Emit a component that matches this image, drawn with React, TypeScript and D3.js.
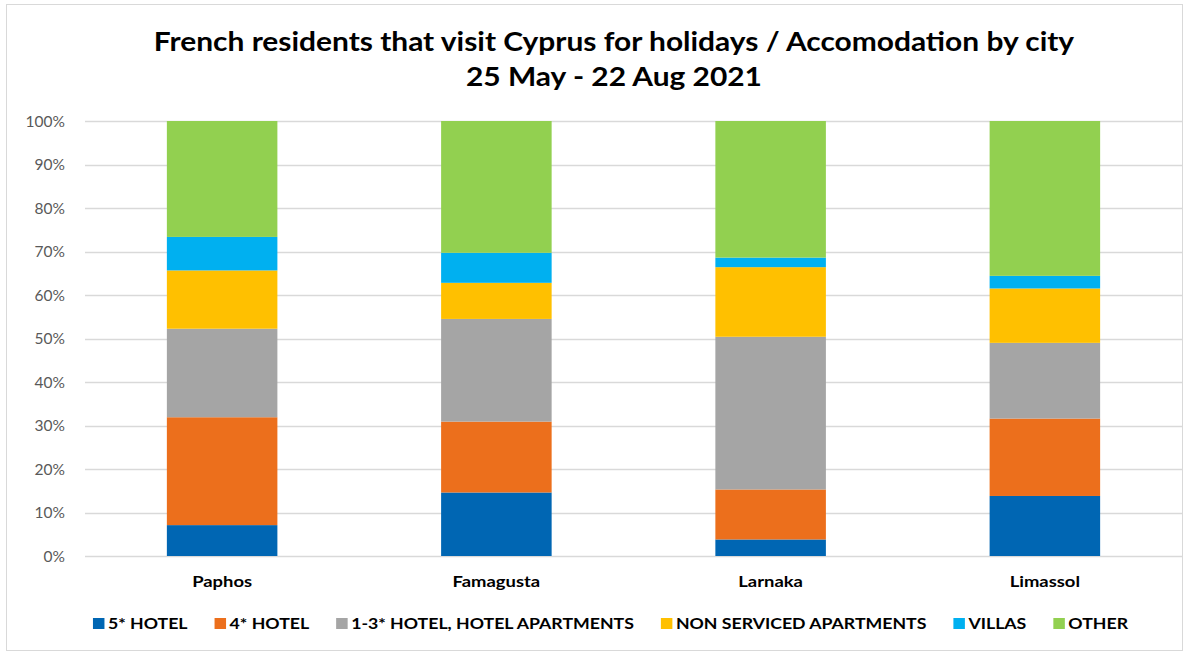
import React, { useEffect, useRef } from "react";
import * as d3 from "d3";

const cities = ["Paphos", "Famagusta", "Larnaka", "Limassol"];
const seriesNames = [
  "5* HOTEL",
  "4* HOTEL",
  "1-3* HOTEL, HOTEL APARTMENTS",
  "NON SERVICED APARTMENTS",
  "VILLAS",
  "OTHER",
];
const seriesColors = ["#0066B3", "#EC6F1C", "#A5A5A5", "#FFC000", "#00B0F0", "#92D050"];
const hotel5 = [7.1, 14.6, 3.8, 13.8];
const hotel4 = [24.8, 16.3, 11.5, 17.8];
const hotel13 = [20.35, 23.6, 35.1, 17.4];
const nonServiced = [13.4, 8.3, 16.0, 12.5];
const villas = [7.7, 6.9, 2.2, 2.9];
const other = [26.65, 30.3, 31.4, 35.6];
const yTicks = [0, 10, 20, 30, 40, 50, 60, 70, 80, 90, 100];
const titleLines = [
  "French residents that visit Cyprus for holidays / Accomodation by city",
  "25 May - 22 Aug 2021",
];

const W = 1201;
const H = 652;
const FONT = "Lato, 'Open Sans', sans-serif";

function stretch(sel: d3.Selection<any, any, any, any>, factor: number) {
  sel.each(function () {
    const t = this as SVGTextElement;
    const len = t.getComputedTextLength();
    d3.select(t).attr("textLength", len * factor).attr("lengthAdjust", "spacingAndGlyphs");
  });
}

export default function App() {
  const ref = useRef<SVGSVGElement | null>(null);

  useEffect(() => {
    const svg = d3.select(ref.current);
    svg.selectAll("*").remove();

    const left = 85, right = 1182, top = 121, bottom = 556;

    svg.append("rect").attr("x", 6.5).attr("y", 4.5).attr("width", 1176).attr("height", 646)
      .attr("fill", "#fff").attr("stroke", "#D9D9D9");

    const x = d3.scaleBand<string>().domain(cities).range([left, right]).paddingInner(0).paddingOuter(0);
    const y = d3.scaleLinear().domain([0, 100]).range([bottom, top]);

    // gridlines
    svg.append("g").selectAll("line").data(yTicks).join("line")
      .attr("x1", left).attr("x2", right)
      .attr("y1", (d) => Math.round(y(d)) + 0.5).attr("y2", (d) => Math.round(y(d)) + 0.5)
      .attr("stroke", "#D9D9D9").attr("stroke-width", 1.3);

    svg.append("g").selectAll("text").data(yTicks).join("text")
      .attr("x", 65).attr("y", (d) => y(d)).attr("dy", "0.36em")
      .attr("text-anchor", "end").attr("font-family", FONT).attr("font-size", 15.5)
      .attr("fill", "#595959").text((d) => d + "%");

    const table = cities.map((c, i) => ({
      city: c,
      s0: hotel5[i], s1: hotel4[i], s2: hotel13[i], s3: nonServiced[i], s4: villas[i], s5: other[i],
    }));
    const keys = ["s0", "s1", "s2", "s3", "s4", "s5"];
    const stacked = d3.stack<any>().keys(keys)(table);
    const barW = x.step() * 0.403;

    svg.append("g").selectAll("g").data(stacked).join("g")
      .attr("fill", (_d, i) => seriesColors[i])
      .selectAll("rect").data((d) => d).join("rect")
      .attr("x", (d: any) => (x(d.data.city) as number) + x.bandwidth() / 2 - barW / 2)
      .attr("width", barW)
      .attr("y", (d: any) => y(Math.min(d[1], 100)))
      .attr("height", (d: any) => y(d[0]) - y(Math.min(d[1], 100)));

    const cat = svg.append("g").selectAll("text").data(cities).join("text")
      .attr("x", (d) => (x(d) as number) + x.bandwidth() / 2).attr("y", 587)
      .attr("text-anchor", "middle").attr("font-family", FONT).attr("font-weight", "bold")
      .attr("font-size", 16).attr("fill", "#000").text((d) => d);
    stretch(cat, 1.15);

    // title
    const title = svg.append("g").selectAll("text").data(titleLines).join("text")
      .attr("x", 614).attr("y", (_d, i) => 51 + i * 35)
      .attr("text-anchor", "middle").attr("font-family", FONT).attr("font-weight", "bold")
      .attr("font-size", 26).attr("fill", "#000").text((d) => d);
    stretch(title, 1.15);

    // legend
    const lg = svg.append("g");
    const items = lg.selectAll("g").data(seriesNames).join("g");
    items.append("rect").attr("width", 11.5).attr("height", 11).attr("y", -11)
      .attr("fill", (_d, i) => seriesColors[i]);
    const ltxt = items.append("text").attr("x", 15).attr("y", 0)
      .attr("font-family", FONT).attr("font-weight", "bold").attr("font-size", 15)
      .attr("fill", "#000").text((d) => d);
    stretch(ltxt, 1.18);
    const widths: number[] = [];
    ltxt.each(function () {
      widths.push(15 + +(d3.select(this).attr("textLength")));
    });
    const gap = 27;
    const total = d3.sum(widths) + gap * (widths.length - 1);
    let cx = 610.5 - total / 2;
    items.attr("transform", (_d, i) => {
      const tx = cx;
      cx += widths[i] + gap;
      return `translate(${tx},629)`;
    });
  }, []);

  return (
    <svg ref={ref} width={W} height={H} style={{ position: "absolute", left: 0, top: 0, background: "#fff" }} />
  );
}
